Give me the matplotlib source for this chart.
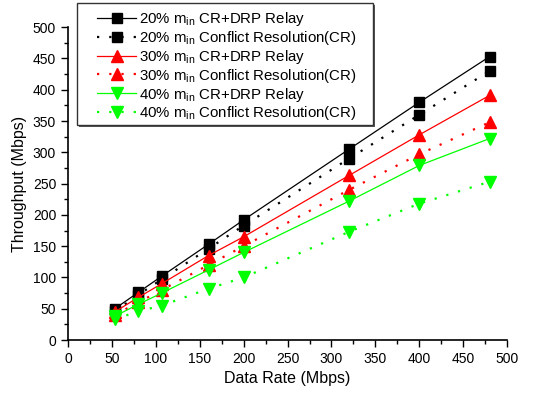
import numpy as np
import matplotlib.pyplot as plt
from matplotlib.patches import Rectangle
from matplotlib.ticker import MultipleLocator

plt.rcParams['font.family'] = ['Liberation Sans', 'DejaVu Sans']
plt.rcParams['mathtext.fontset'] = 'custom'
plt.rcParams['mathtext.rm'] = 'Liberation Sans'

# data rates (Mbps)
rates = [53.3, 80, 106.7, 160, 200, 320, 400, 480]

# throughput (Mbps)
relay_20 = [50, 76, 102, 153, 192, 305, 380, 453]
cr_20 = [46, 72, 97, 146, 183, 290, 360, 430]
relay_30 = [45, 68, 90, 135, 165, 263, 328, 391]
cr_30 = [40, 60, 80, 120, 150, 240, 297, 348]
relay_40 = [38, 57, 75, 112, 140, 222, 279, 322]
cr_40 = [33, 46, 55, 82, 100, 173, 218, 253]

green = '#00ff00'
dots = (0, (1, 4.5))
W, H = 535, 394

fig = plt.figure(figsize=(5.35, 3.94), dpi=100)
ax = fig.add_axes([0.127, 0.137, 0.821, 0.794])

ax.plot(rates, relay_20, color='black', lw=0.9, marker='s', ms=6.5,
        label=r'20% m$_{\mathregular{in}}$ CR+DRP Relay')
ax.plot(rates, cr_20, color='black', lw=1.6, ls=dots, marker='s', ms=6.5,
        label=r'20% m$_{\mathregular{in}}$ Conflict Resolution(CR)')
ax.plot(rates, relay_30, color='red', lw=0.9, marker='^', ms=8,
        label=r'30% m$_{\mathregular{in}}$ CR+DRP Relay')
ax.plot(rates, cr_30, color='red', lw=1.6, ls=dots, marker='^', ms=8,
        label=r'30% m$_{\mathregular{in}}$ Conflict Resolution(CR)')
ax.plot(rates, relay_40, color=green, lw=0.9, marker='v', ms=8,
        label=r'40% m$_{\mathregular{in}}$ CR+DRP Relay')
ax.plot(rates, cr_40, color=green, lw=1.6, ls=dots, marker='v', ms=8,
        label=r'40% m$_{\mathregular{in}}$ Conflict Resolution(CR)')

ax.set_xlim(0, 500)
ax.set_ylim(0, 500)
ax.xaxis.set_major_locator(MultipleLocator(50))
ax.xaxis.set_minor_locator(MultipleLocator(25))
ax.yaxis.set_major_locator(MultipleLocator(50))
ax.yaxis.set_minor_locator(MultipleLocator(25))
ax.tick_params(which='major', length=5, width=1, labelsize=10)
ax.tick_params(which='minor', length=3, width=1)
ax.spines['top'].set_visible(False)
ax.spines['right'].set_visible(False)
ax.spines['left'].set_linewidth(1.2)
ax.spines['bottom'].set_linewidth(1.2)

ax.set_xlabel('Data Rate (Mbps)', fontsize=11.5)
ax.set_ylabel('Throughput (Mbps)', fontsize=11.5)

# legend box with a small shadow, drawn in figure pixels
x0, y0, x1, y1 = 77, 3, 373, 125
ax.add_patch(Rectangle(((x0 + 2) / W, 1 - (y1 + 2) / H), (x1 - x0) / W,
                       (y1 - y0) / H, transform=fig.transFigure, clip_on=False,
                       facecolor='#555555', edgecolor='none', zorder=5))
ax.add_patch(Rectangle((x0 / W, 1 - y1 / H), (x1 - x0) / W,
                       (y1 - y0) / H, transform=fig.transFigure, clip_on=False,
                       facecolor='white', edgecolor='#333333', lw=1,
                       zorder=6))

leg = ax.legend(loc='upper left', bbox_to_anchor=(97 / W, 1 - 10 / H),
                bbox_transform=fig.transFigure, fontsize=10.8, frameon=False,
                handlelength=2.6, handletextpad=0.2, labelspacing=0.06,
                borderpad=0, borderaxespad=0)
leg.set_zorder(7)

fig.savefig('out.png', dpi=100)
